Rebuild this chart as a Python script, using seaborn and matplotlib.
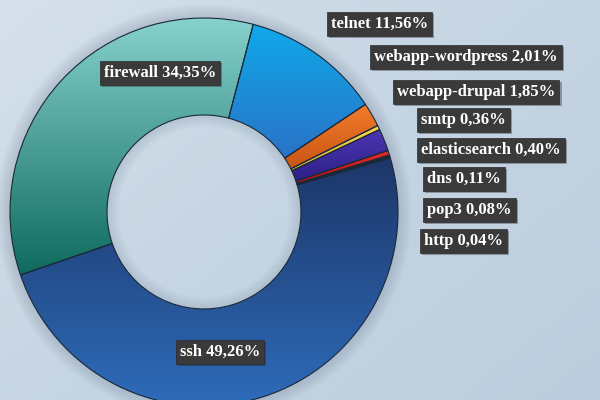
import numpy as np
import matplotlib
matplotlib.use("Agg")
import matplotlib.pyplot as plt
import matplotlib.patheffects as pe
from matplotlib.patches import Wedge
import seaborn as sns

# slices in drawing order, clockwise from the top
services = ["telnet", "webapp-wordpress", "smtp", "webapp-drupal", "elasticsearch",
            "dns", "pop3", "http", "ssh", "firewall"]
shares = [11.56, 2.01, 0.36, 1.85, 0.40, 0.11, 0.08, 0.04, 49.26, 34.35]

# gradient colours per slice (top, bottom)
grad_colors = {
    "telnet": ("#0fa9e9", "#2a72c6"),
    "webapp-wordpress": ("#f27c2a", "#c95515"),
    "smtp": ("#f6d456", "#e2b232"),
    "webapp-drupal": ("#4c36b2", "#2e2088"),
    "elasticsearch": ("#e22a2a", "#b21212"),
    "dns": ("#8a1c3a", "#6a1430"),
    "pop3": ("#2a2a7a", "#202060"),
    "http": ("#303060", "#202040"),
    "ssh": ("#1d3668", "#2e6cba"),
    "firewall": ("#86d1cd", "#0f6a5d"),
}

# stacked label boxes on the right, top to bottom
right_labels = ["telnet", "webapp-wordpress", "webapp-drupal", "smtp",
                "elasticsearch", "dns", "pop3", "http"]
right_left_px = [327, 370, 393, 417, 417, 423, 423, 420]
right_y_px = [24, 57, 92, 120, 150, 179, 210, 241]
# labels sitting on the big slices
inner_labels = ["firewall", "ssh"]
inner_xy_px = [(160, 73), (220, 352)]

W, H = 600, 400
cx, cy, R = 204, 212, 194  # donut centre and outer radius in pixels

sns.set_theme(style="white")
fig = plt.figure(figsize=(6, 4), dpi=100)
ax = fig.add_axes([0, 0, 1, 1])
xlim = (-cx / R, (W - cx) / R)
ylim = (-(H - cy) / R, cy / R)

# background: soft diagonal gradient
yy, xx = np.mgrid[0:1:200j, 0:1:300j]
t = 0.55 * xx + 0.45 * (1 - yy)
t = t + 0.04 * np.exp(-((xx - yy * 0.9 - 0.35) ** 2) / 0.01)
bg_cmap = sns.blend_palette(["#d5e0ea", "#c6d5e3", "#bccddd"], as_cmap=True)
ax.imshow(t, cmap=bg_cmap, extent=(*xlim, *ylim), origin="lower",
          aspect="auto", zorder=0, interpolation="bicubic")

# soft shadow around the ring
for r in np.linspace(1.07, 1.0, 8):
    ax.add_patch(Wedge((0, 0), r, 0, 360, width=r - 0.99,
                       facecolor="#5a6e82", edgecolor="none", alpha=0.035, zorder=1))
for r in np.linspace(0.44, 0.5, 6):
    ax.add_patch(Wedge((0, 0), 0.501, 0, 360, width=0.501 - r,
                       facecolor="#5a6e82", edgecolor="none", alpha=0.04, zorder=1))

wedges, _ = ax.pie(shares, startangle=75.3, counterclock=False, radius=1,
                   wedgeprops=dict(width=0.5, edgecolor="#1a2838", linewidth=0.8))

grad = np.linspace(0, 1, 256).reshape(-1, 1)
for w, name in zip(wedges, services):
    top, bottom = grad_colors[name]
    cmap = sns.blend_palette([bottom, top], as_cmap=True)
    ext = w.get_path().get_extents()
    im = ax.imshow(grad, cmap=cmap, extent=(ext.x0, ext.x1, ext.y0, ext.y1),
                   origin="lower", aspect="auto", zorder=2, interpolation="bicubic")
    im.set_clip_path(w)
    w.set_facecolor("none")
    w.set_zorder(3)

ax.set_xlim(*xlim)
ax.set_ylim(*ylim)
ax.set_aspect("auto")
ax.axis("off")

share_of = dict(zip(services, shares))


def fmt(name):
    return f"{name} {share_of[name]:.2f}%".replace(".", ",")


box = dict(boxstyle="square,pad=0.25", facecolor="#3a3a3a", edgecolor="#2a2a2a", linewidth=0.5)
font = dict(family="Liberation Serif", weight="bold", size=12, color="white")


def put(x_px, y_px, text, ha):
    tx = ax.text(x_px / W, 1 - y_px / H, text, transform=fig.transFigure,
                 ha=ha, va="center", bbox=box, zorder=5, **font)
    tx.get_bbox_patch().set_path_effects(
        [pe.withSimplePatchShadow(offset=(1.5, -1.5), shadow_rgbFace="#202020", alpha=0.35)])


for name, x0, y0 in zip(right_labels, right_left_px, right_y_px):
    put(x0 + 4, y0, fmt(name), "left")
for name, (x0, y0) in zip(inner_labels, inner_xy_px):
    put(x0, y0, fmt(name), "center")

fig.savefig("out.png", dpi=100)
